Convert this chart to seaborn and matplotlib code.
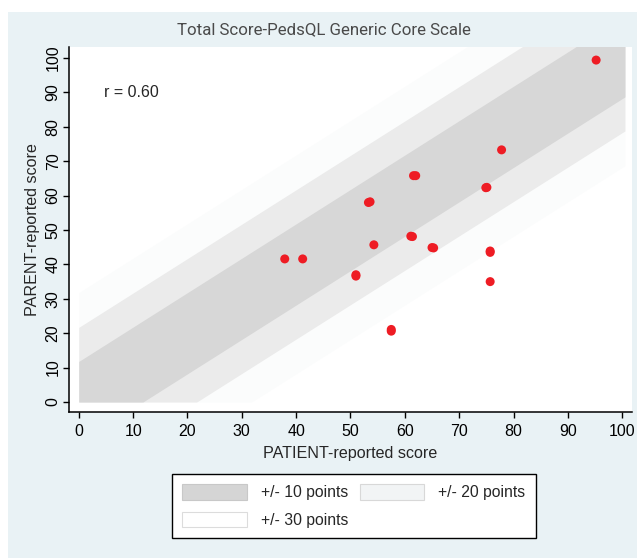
import numpy as np
import pandas as pd
import matplotlib
matplotlib.use('Agg')
import matplotlib.pyplot as plt
from matplotlib.patches import Patch, Rectangle
import seaborn as sns

# значения
patient = [37.9, 41.2, 51.0, 51.0, 53.3, 53.6, 54.3, 57.5, 57.5, 61.1, 61.4,
           61.6, 62.0, 65.0, 65.3, 74.9, 75.1, 75.7, 75.7, 75.7, 77.8, 95.2]
parent = [41.6, 41.6, 37.0, 36.6, 58.0, 58.2, 45.7, 21.1, 20.6, 48.2, 48.1,
          65.8, 65.8, 44.9, 44.8, 62.3, 62.4, 43.9, 43.5, 35.0, 73.3, 99.4]
band_offsets = [31.8, 21.7, 11.8]
band_colors = ['#fbfcfc', '#ebebeb', '#d7d7d7']
legend_labels = ['+/- 10 points', '+/- 30 points', '+/- 20 points']
title = 'Total Score-PedsQL Generic Core Scale'
r_text = 'r = 0.60'

df = pd.DataFrame({'patient': patient, 'parent': parent})

sns.set_style('ticks')
plt.rcParams['font.family'] = ['Liberation Sans', 'DejaVu Sans']

fig = plt.figure(figsize=(6.37, 5.58), dpi=100)
fig.patch.set_facecolor('white')
fig.patches.append(Rectangle((8 / 637, 0), 1, 1 - 12 / 558, transform=fig.transFigure,
                             facecolor='#e9f2f5', edgecolor='none', zorder=-5))

ax = fig.add_axes([69 / 637, 1 - 412 / 558, (632 - 69) / 637, (412 - 47) / 558])
ax.set_zorder(2)
ax.set_facecolor('white')

# полосы согласия
xs = np.linspace(0, 100.5, 400)
for off, col in zip(band_offsets, band_colors):
    ax.fill_between(xs, np.maximum(xs - off, 0), xs + off, color=col, lw=0, zorder=1)

sns.scatterplot(data=df, x='patient', y='parent', ax=ax, color='#ee1c24',
                s=42, edgecolor='none', zorder=3, legend=False)

ax.set_xlim(-1.8, 101.8)
ax.set_ylim(-2.9, 103.2)
ax.set_xticks(range(0, 101, 10))
ax.set_yticks(range(0, 101, 10))
ax.tick_params(axis='both', length=4.5, width=1, color='black', labelsize=11.5,
               labelcolor='black')
ax.tick_params(axis='x', pad=4)
ax.tick_params(axis='y', labelrotation=90, pad=1.5)
for lab in ax.get_yticklabels():
    lab.set_va('center')

for s in ['top', 'right']:
    ax.spines[s].set_visible(False)
for s in ['left', 'bottom']:
    ax.spines[s].set_color('black')
    ax.spines[s].set_linewidth(1.1)

ax.set_xlabel('PATIENT-reported score', fontsize=11.6, labelpad=5)
ax.set_ylabel('PARENT-reported score', fontsize=11.6, labelpad=4)

ax.text(4.6, 90.1, r_text, fontsize=11.5, va='center', ha='left')

fig.text(0.508, 1 - 30 / 558, title, ha='center', va='center', fontsize=12.2,
         color='#4a4a4a', family=['Roboto', 'DejaVu Sans'], fontweight='normal')

handles = [Patch(facecolor='#d5d5d5', edgecolor='#c8c8c8', lw=0.8),
           Patch(facecolor='white', edgecolor='#dcdcdc', lw=0.8),
           Patch(facecolor='#f2f4f5', edgecolor='#d8d8d8', lw=0.8)]
leg = fig.legend(handles, legend_labels, ncol=2, loc='center',
                 bbox_to_anchor=(354 / 637, 1 - 506 / 558), fontsize=11.3,
                 handlelength=4.1, handleheight=1.15, handletextpad=0.9,
                 columnspacing=0.75, labelspacing=0.75, borderpad=0.65,
                 fancybox=False, framealpha=1, edgecolor='black')
leg.get_frame().set_linewidth(1)

fig.savefig('out.png', dpi=100, facecolor=fig.get_facecolor())
